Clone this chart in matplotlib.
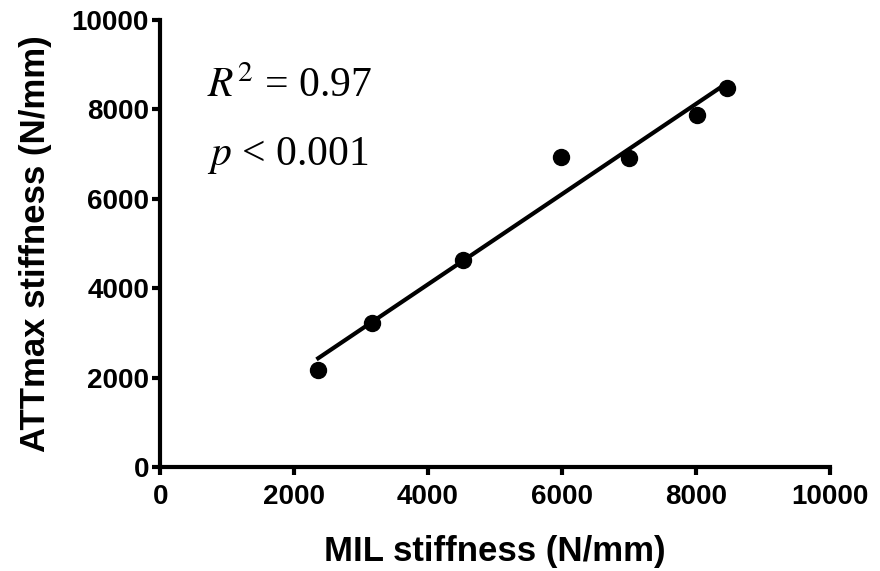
import matplotlib.pyplot as plt
import numpy as np

plt.rcParams['font.family'] = ['Liberation Sans', 'DejaVu Sans']
plt.rcParams['mathtext.fontset'] = 'stix'

# MIL vs ATTmax stiffness (N/mm)
mil_stiffness = np.array([2360, 3160, 4520, 5990, 7000, 8020, 8460])
att_stiffness = np.array([2170, 3220, 4630, 6930, 6910, 7880, 8480])
r2_text = r'$R^2$ = 0.97'
p_text = r'$p$ < 0.001'

fig = plt.figure(figsize=(8.8, 5.71), dpi=100)
ax = fig.add_axes([0.182, 0.182, 0.761, 0.783])

# linear fit over the data range
slope, intercept = np.polyfit(mil_stiffness, att_stiffness, 1)
xfit = np.array([mil_stiffness.min(), mil_stiffness.max()])
ax.plot(xfit, slope * xfit + intercept, color='black', lw=3, zorder=2)
ax.plot(mil_stiffness, att_stiffness, 'o', color='black', ms=11.5, zorder=3)

ax.set_xlim(0, 10000)
ax.set_ylim(0, 10000)
ax.set_xticks(np.arange(0, 10001, 2000))
ax.set_yticks(np.arange(0, 10001, 2000))

for side in ['top', 'right']:
    ax.spines[side].set_visible(False)
for side in ['left', 'bottom']:
    ax.spines[side].set_linewidth(3)
ax.tick_params(axis='both', direction='out', length=6, width=3, labelsize=20)
ax.tick_params(axis='x', pad=6)
ax.tick_params(axis='y', pad=2)
for lab in ax.get_xticklabels() + ax.get_yticklabels():
    lab.set_fontweight('bold')

ax.set_xlabel('MIL stiffness (N/mm)', fontsize=25, fontweight='bold', labelpad=18)
ax.set_ylabel('ATTmax stiffness (N/mm)', fontsize=25, fontweight='bold', labelpad=14)

ax.text(0.07, 0.828, r2_text, transform=ax.transAxes, fontsize=30,
        family='Liberation Serif', va='baseline')
ax.text(0.07, 0.676, p_text, transform=ax.transAxes, fontsize=30,
        family='Liberation Serif', va='baseline')

fig.savefig('out.png', dpi=100)
